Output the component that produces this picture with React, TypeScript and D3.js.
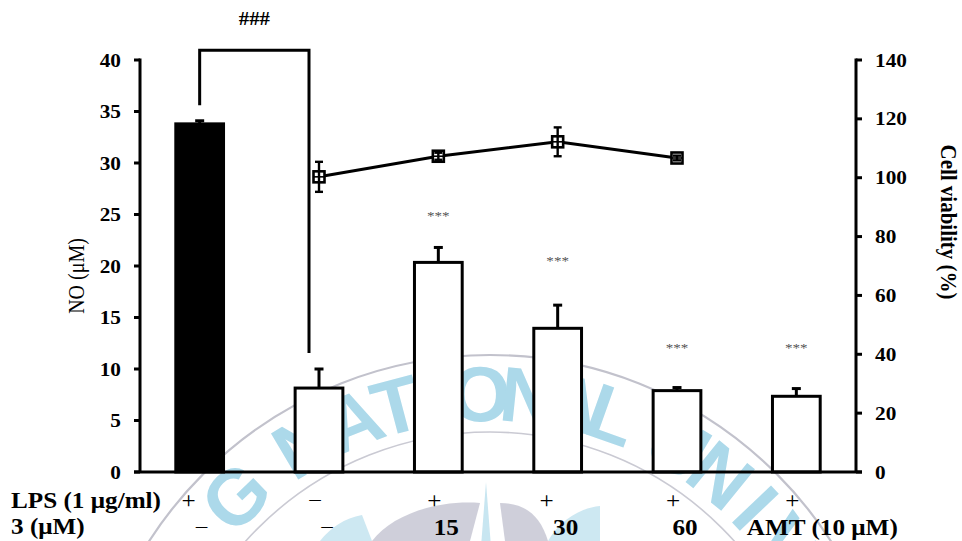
import React from "react";
import * as d3 from "d3";

// Treatment groups along the x axis
const groups = ["ctrl", "lps", "c15", "c30", "c60", "amt"];
const lpsRow = ["+", "−", "+", "+", "+", "+"];
const doseRow = ["−", "−", "15", "30", "60", "AMT (10 μM)"];
const doseBold = [false, false, true, true, true, true];

// NO production (μM), mean and error
const noMean = [33.8, 8.15, 20.35, 13.95, 7.9, 7.35];
const noErr = [0.3, 1.85, 1.45, 2.25, 0.3, 0.75];

// Cell viability (%) for the treated groups
const viabGroups = ["lps", "c15", "c30", "c60"];
const viabMean = [100.3, 107.3, 112.2, 106.7];
const viabErr = [5.1, 1.2, 4.9, 0.8];

// Significance marks and the NO level they are written at
const sigText = ["", "", "***", "***", "***", "***"];
const sigLevel = [0, 0, 25.1, 20.8, 12.3, 12.3];

const leftTicks = [0, 5, 10, 15, 20, 25, 30, 35, 40];
const rightTicks = [0, 20, 40, 60, 80, 100, 120, 140];

// Faint seal in the background
const sealLetters = ["G", "N", "A", "T", "I", "O", "N", "A", "L", "U", "N", "I", "V"];
const sealAngles = [-44, -30.5, -22, -14.8, -8.3, -1.5, 6, 13, 19.5, 31, 39, 46.5, 54];

const W = 962;
const H = 541;
const serif = "'Liberation Serif', 'Times New Roman', serif";
const SX = 1.12;

type TProps = {
  x: number;
  y: number;
  size: number;
  anchor?: string;
  weight?: string | number;
  fill?: string;
  rotate?: number;
  children: React.ReactNode;
};

const T = ({ x, y, size, anchor = "start", weight = "bold", fill = "#000", rotate = 0, children }: TProps) => (
  <text
    transform={`translate(${x},${y}) scale(${SX},1) rotate(${rotate})`}
    textAnchor={anchor}
    fontFamily={serif}
    fontSize={size}
    fontWeight={weight}
    fill={fill}
  >
    {children}
  </text>
);

export default function App() {
  const x = d3.scalePoint<string>().domain(groups).range([140, 856]).padding(0.5);
  const yL = d3.scaleLinear().domain([0, 40]).range([472, 60]);
  const yR = d3.scaleLinear().domain([0, 140]).range([472, 60]);
  const step = x.step();
  const bw = step * 0.4;
  const cap = 4.5;

  const line = d3
    .line<number>()
    .x((_, i) => x(viabGroups[i]) as number)
    .y((d) => yR(d));

  const bx0 = x(groups[0]) as number;
  const bx1 = (x(groups[1]) as number) - 10;
  const bTop = yL(40.95);

  // seal geometry
  const scx = 490;
  const scy = 760;

  return (
    <svg width={W} height={H} style={{ position: "absolute", left: 0, top: 0, background: "#fff" }}>
      <rect width={W} height={H} fill="#fff" />

      {/* background seal */}
      <g>
        <circle cx={scx} cy={scy} r={405} fill="none" stroke="#c2c2cc" strokeWidth={2.2} />
        <circle cx={scx} cy={scy} r={328} fill="none" stroke="#cacad3" strokeWidth={1.6} />
        {sealLetters.map((ch, i) => (
          <text
            key={i}
            transform={`translate(${scx},${scy}) rotate(${sealAngles[i]}) translate(0,-366)`}
            textAnchor="middle"
            dominantBaseline="central"
            fontFamily="'Liberation Sans', Arial, sans-serif"
            fontWeight="bold"
            fontSize={78}
            fill="#acd9ea"
          >
            {ch}
          </text>
        ))}
        <g opacity={0.6}>
          <path d="M486,482 L480,560 L492,560 Z" fill="#a4d6e8" />
          <path d="M372,541 C392,515 435,500 480,503 L470,541 Z" fill="#b0b0c2" />
          <path d="M500,503 C525,503 540,515 548,541 L505,541 Z" fill="#b0b0c2" />
          <path d="M548,541 C560,520 580,508 600,506 L600,541 Z" fill="#acd9ea" />
          <path d="M320,541 C330,528 345,518 362,515 L372,541 Z" fill="#acd9ea" />
        </g>
      </g>

      {/* bracket and ### */}
      <path
        d={`M${bx0},${yL(35.6)} V${bTop} H${bx1} V${yL(11.55)}`}
        fill="none"
        stroke="#000"
        strokeWidth={3}
      />
      <T x={(bx0 + bx1) / 2} y={bTop - 25} size={18.5} anchor="middle">
        ###
      </T>

      {/* bars */}
      {groups.map((g, i) => {
        const cx = x(g) as number;
        const top = yL(noMean[i]);
        return (
          <g key={g}>
            <rect
              x={cx - bw / 2}
              y={top}
              width={bw}
              height={yL(0) - top}
              fill={i === 0 ? "#000" : "#fff"}
              stroke="#000"
              strokeWidth={3}
            />
            <line x1={cx} x2={cx} y1={top} y2={yL(noMean[i] + noErr[i])} stroke="#000" strokeWidth={3} />
            <line
              x1={cx - cap}
              x2={cx + cap}
              y1={yL(noMean[i] + noErr[i])}
              y2={yL(noMean[i] + noErr[i])}
              stroke="#000"
              strokeWidth={3}
            />
            {sigText[i] && (
              <T x={cx} y={yL(sigLevel[i]) + 7} size={13.5} anchor="middle" weight="normal" fill="#555">
                {sigText[i]}
              </T>
            )}
          </g>
        );
      })}

      {/* viability line */}
      <path d={line(viabMean) ?? ""} fill="none" stroke="#000" strokeWidth={3} />
      {viabGroups.map((g, i) => {
        const cx = x(g) as number;
        const cy = yR(viabMean[i]);
        const hi = yR(viabMean[i] + viabErr[i]);
        const lo = yR(viabMean[i] - viabErr[i]);
        return (
          <g key={g}>
            <rect x={cx - 5.5} y={cy - 5.5} width={11} height={11} fill="#fff" stroke="#000" strokeWidth={2.6} />
            <line x1={cx} x2={cx} y1={hi} y2={lo} stroke="#000" strokeWidth={2.4} />
            <line x1={cx - 5.5} x2={cx + 5.5} y1={cy} y2={cy} stroke="#000" strokeWidth={1.6} />
            <line x1={cx - 4} x2={cx + 4} y1={hi} y2={hi} stroke="#000" strokeWidth={2.4} />
            <line x1={cx - 4} x2={cx + 4} y1={lo} y2={lo} stroke="#000" strokeWidth={2.4} />
          </g>
        );
      })}

      {/* axes */}
      <g stroke="#000" strokeWidth={3} fill="none">
        <line x1={140} x2={140} y1={yL(40) - 1.5} y2={yL(0)} />
        <line x1={856} x2={856} y1={yR(140) - 1.5} y2={yR(0)} />
        <line x1={134} x2={862} y1={yL(0)} y2={yL(0)} />
        {leftTicks.map((t) => (
          <line key={`lt${t}`} x1={134} x2={140} y1={yL(t)} y2={yL(t)} />
        ))}
        {rightTicks.map((t) => (
          <line key={`rt${t}`} x1={856} x2={862} y1={yR(t)} y2={yR(t)} />
        ))}
      </g>
      {leftTicks.map((t) => (
        <T key={`ll${t}`} x={121} y={yL(t) + 6.5} size={19} anchor="end">
          {t}
        </T>
      ))}
      {rightTicks.map((t) => (
        <T key={`rl${t}`} x={875} y={yR(t) + 6.5} size={19}>
          {t}
        </T>
      ))}

      {/* axis titles */}
      <T x={84} y={276} size={20} anchor="middle" weight="normal" rotate={-90}>
        NO (μM)
      </T>
      <T x={941} y={222} size={21} anchor="middle" rotate={90}>
        Cell viability (%)
      </T>

      {/* treatment rows */}
      <T x={11} y={508} size={22.5}>
        LPS (1 μg/ml)
      </T>
      <T x={11} y={534} size={22.5}>
        3 (μM)
      </T>
      {groups.map((g, i) => (
        <T key={`r1${g}`} x={(x(g) as number) - (i === 0 || i === 3 ? 11 : 4)} y={508} size={22.5} anchor="middle" weight="normal">
          {lpsRow[i]}
        </T>
      ))}
      {groups.map((g, i) => (
        <T
          key={`r2${g}`}
          x={(x(g) as number) + (i === 5 ? 26 : i === 0 ? 2 : 8)}
          y={535}
          size={22.5}
          anchor="middle"
          weight={doseBold[i] ? "bold" : "normal"}
        >
          {doseRow[i]}
        </T>
      ))}
    </svg>
  );
}
